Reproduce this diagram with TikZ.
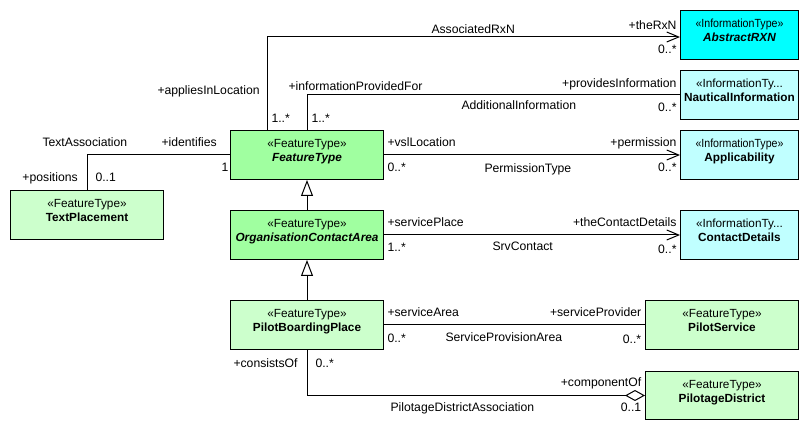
\documentclass[tikz,border=0pt]{standalone}
\usepackage{fontspec}
\setmainfont{Liberation Sans}
\usetikzlibrary{arrows.meta}
\definecolor{ftdark}{RGB}{160,255,160}
\definecolor{ftlight}{RGB}{204,255,204}
\definecolor{itdark}{RGB}{0,255,255}
\definecolor{itlight}{RGB}{192,255,255}
\newcommand\lblfont{\fontsize{12.2}{14}\selectfont}
\newcommand\boxfont{\fontsize{11.8}{14}\selectfont}
\begin{document}
\begin{tikzpicture}[x=1pt,y=-1pt,line width=1pt,
  umlbox/.style={draw=black,line width=1pt,minimum height=49pt,inner sep=0pt,anchor=north west},
  fdark/.style={umlbox,fill=ftdark,minimum width=153pt},
  flight/.style={umlbox,fill=ftlight,minimum width=153pt},
  idark/.style={umlbox,fill=itdark,minimum width=118pt},
  ilight/.style={umlbox,fill=itlight,minimum width=118pt},
  stereo/.style={font=\boxfont,inner sep=0pt,anchor=base},
  bname/.style={font=\boxfont\bfseries,inner sep=0pt,anchor=base},
  lab/.style={font=\lblfont,inner sep=0pt},
  assoc/.style={-{Straight Barb[length=12pt,width=10pt]}},
  gen/.style={-{Triangle[open,length=16pt,width=12pt]}},
  agg/.style={-{Diamond[open,length=20pt,width=11pt]}}
]
\useasboundingbox (0,0) rectangle (809,430);
% boxes
\node[fdark]  (ft)  at (230,130) {};
\node[fdark]  (oca) at (230,210) {};
\node[flight] (pbp) at (230,300) {};
\node[flight] (tp)  at (10,190) {};
\node[idark]  (rxn) at (680,10) {};
\node[ilight] (ni)  at (680,70) {};
\node[ilight] (app) at (680,130) {};
\node[ilight] (cd)  at (680,210) {};
\node[flight] (ps)  at (645,300) {};
\node[flight,minimum height=48pt] (pd) at (645,371) {};
% box texts
\node[stereo] (ft-s) at ([yshift=-17.3pt]ft.north) {«FeatureType»};
\node[bname]  (ft-n) at ([yshift=-31.7pt]ft.north) {\itshape FeatureType};
\node[stereo] (oca-s) at ([yshift=-17.3pt]oca.north) {«FeatureType»};
\node[bname]  (oca-n) at ([yshift=-31.7pt]oca.north) {\itshape OrganisationContactArea};
\node[stereo] (pbp-s) at ([yshift=-17.3pt]pbp.north) {«FeatureType»};
\node[bname]  (pbp-n) at ([yshift=-31.7pt]pbp.north) {PilotBoardingPlace};
\node[stereo] (tp-s) at ([yshift=-17.3pt]tp.north) {«FeatureType»};
\node[bname]  (tp-n) at ([yshift=-31.7pt]tp.north) {TextPlacement};
\node[stereo] (rxn-s) at ([yshift=-17.3pt]rxn.north) {\scalebox{0.9}[1]{«InformationType»}};
\node[bname]  (rxn-n) at ([yshift=-31.7pt]rxn.north) {\itshape AbstractRXN};
\node[stereo] (ni-s) at ([yshift=-17.3pt]ni.north) {«InformationTy...};
\node[bname]  (ni-n) at ([yshift=-31.7pt]ni.north) {NauticalInformation};
\node[stereo] (app-s) at ([yshift=-17.3pt]app.north) {\scalebox{0.9}[1]{«InformationType»}};
\node[bname]  (app-n) at ([yshift=-31.7pt]app.north) {Applicability};
\node[stereo] (cd-s) at ([yshift=-17.3pt]cd.north) {«InformationTy...};
\node[bname]  (cd-n) at ([yshift=-31.7pt]cd.north) {ContactDetails};
\node[stereo] (ps-s) at ([yshift=-17.3pt]ps.north) {«FeatureType»};
\node[bname]  (ps-n) at ([yshift=-31.7pt]ps.north) {PilotService};
\node[stereo] (pd-s) at ([yshift=-17.3pt]pd.north) {«FeatureType»};
\node[bname]  (pd-n) at ([yshift=-31.7pt]pd.north) {PilotageDistrict};
% connectors
\draw[assoc] ([xshift=37pt]ft.north west) |- ([yshift=-2pt]rxn.west);
\draw (ft.north) |- (ni.west);
\draw[assoc] (ft.east) -- (app.west);
\draw (ft.west) -| (tp.north);
\draw[gen] (oca.north) -- (ft.south);
\draw[gen] (pbp.north) -- (oca.south);
\draw[assoc] (oca.east) -- (cd.west);
\draw (pbp.east) -- (ps.west);
\draw[agg] (pbp.south) |- (pd.west);
% labels
\node[lab,anchor=base west] (l1) at (431,33.3) {AssociatedRxN};
\node[lab,anchor=base east] (l2) at (677,29.3) {+theRxN};
\node[lab,anchor=base east] (l3) at (677,54) {0..*};
\node[lab,anchor=base west] (l4) at (157,95) {+appliesInLocation};
\node[lab,anchor=base west] (l5) at (271,122.5) {1..*};
\node[lab,anchor=base west] (l6) at (288,90.7) {+informationProvidedFor};
\node[lab,anchor=base west] (l7) at (311,122.5) {1..*};
\node[lab,anchor=base east] (l8) at (677,87.3) {+providesInformation};
\node[lab,anchor=base west] (l9) at (461,110) {AdditionalInformation};
\node[lab,anchor=base east] (l10) at (677,111.7) {0..*};
\node[lab,anchor=base west] (l11) at (387,146.7) {+vslLocation};
\node[lab,anchor=base west] (l12) at (387,171.7) {0..*};
\node[lab,anchor=base east] (l13) at (677,146.7) {+permission};
\node[lab,anchor=base west] (l14) at (484,172.5) {PermissionType};
\node[lab,anchor=base east] (l15) at (677,171.7) {0..*};
\node[lab,anchor=base west] (l16) at (42,147) {TextAssociation};
\node[lab,anchor=base west] (l17) at (161,146.7) {+identifies};
\node[lab,anchor=base west] (l18) at (221,171.7) {1};
\node[lab,anchor=base west] (l19) at (22,181.7) {+positions};
\node[lab,anchor=base west] (l20) at (95,181.7) {0..1};
\node[lab,anchor=base west] (l21) at (387,226.7) {+servicePlace};
\node[lab,anchor=base west] (l22) at (387,251.7) {1..*};
\node[lab,anchor=base east] (l23) at (677,226.7) {+theContactDetails};
\node[lab,anchor=base west] (l24) at (492,251) {SrvContact};
\node[lab,anchor=base east] (l25) at (677,253.3) {0..*};
\node[lab,anchor=base west] (l26) at (387,316.7) {+serviceArea};
\node[lab,anchor=base west] (l27) at (387,343) {0..*};
\node[lab,anchor=base east] (l28) at (641.7,316.7) {+serviceProvider};
\node[lab,anchor=base west] (l29) at (445,341.7) {ServiceProvisionArea};
\node[lab,anchor=base east] (l30) at (641.7,343.3) {0..*};
\node[lab,anchor=base west] (l31) at (233,367.7) {+consistsOf};
\node[lab,anchor=base west] (l32) at (315,367.7) {0..*};
\node[lab,anchor=base east] (l33) at (641.7,386.7) {+componentOf};
\node[lab,anchor=base west] (l34) at (390,411.7) {PilotageDistrictAssociation};
\node[lab,anchor=base east] (l35) at (641.7,411.7) {0..1};
\end{tikzpicture}
\end{document}
